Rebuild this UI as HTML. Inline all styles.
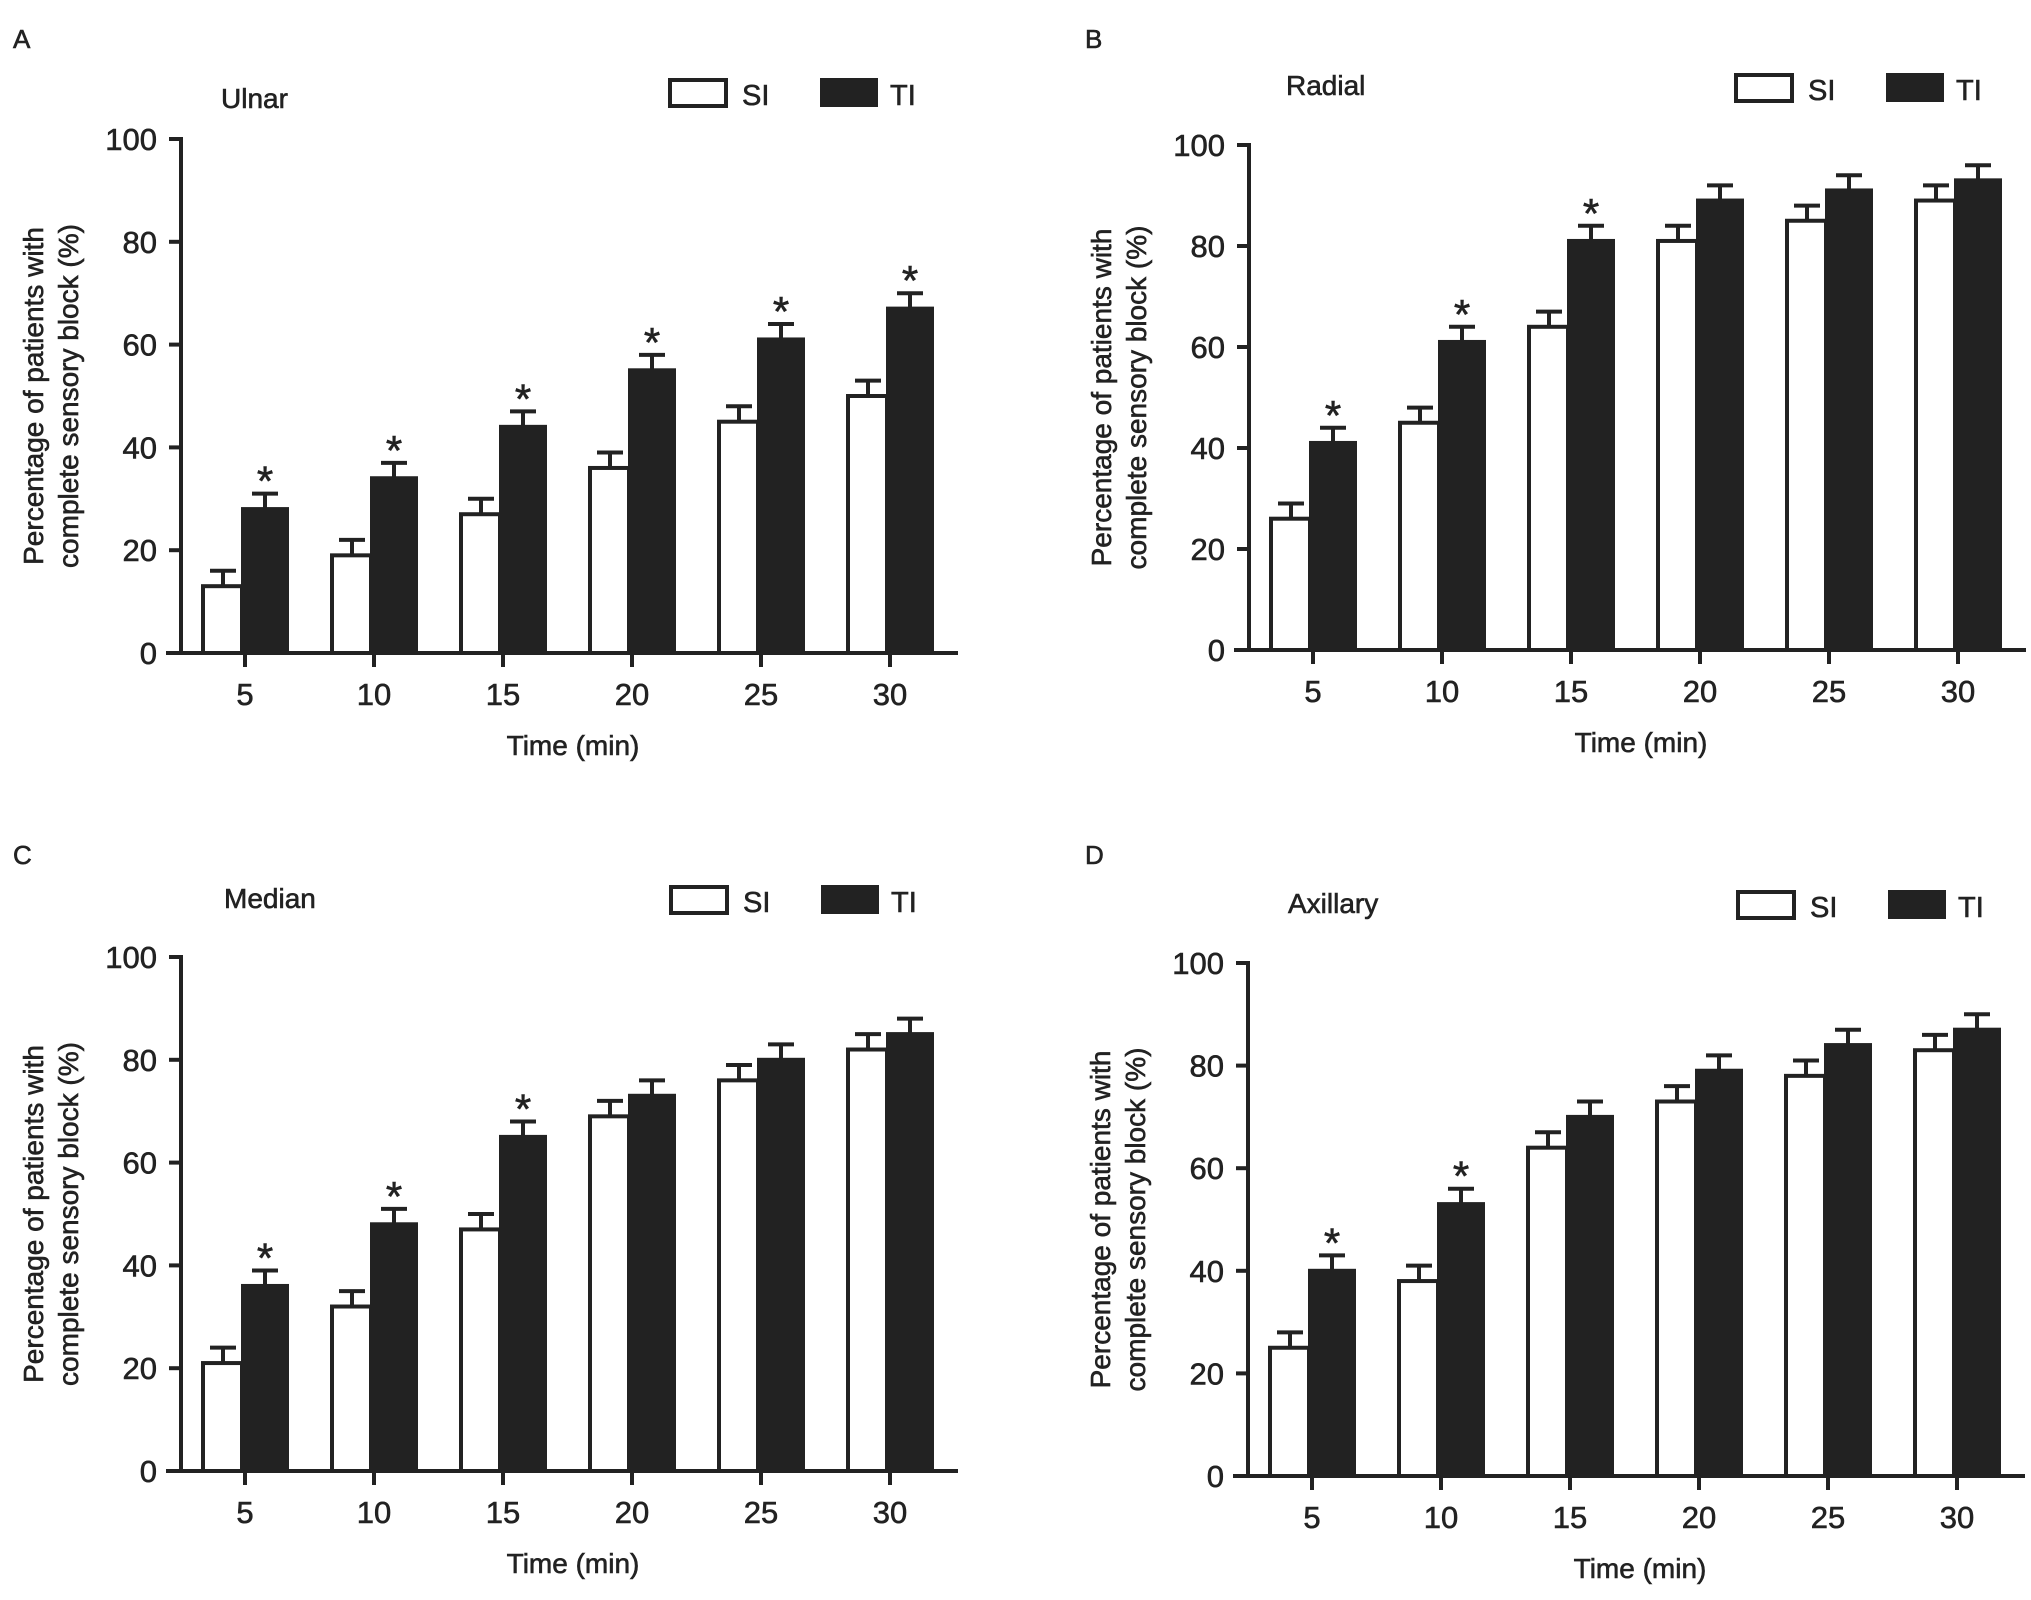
<!DOCTYPE html>
<html><head><meta charset="utf-8"><style>
html,body{margin:0;padding:0;background:#fff;}
svg{display:block;font-family:"Liberation Sans",Arial,sans-serif;}
svg text{stroke:#222;stroke-width:0.6px;}
</style></head><body>
<svg id="fig" width="2031" height="1600" viewBox="0 0 2031 1600" xmlns="http://www.w3.org/2000/svg"></svg>
<script>
const categories = [5, 10, 15, 20, 25, 30];
const yTicks = [0, 20, 40, 60, 80, 100];
const ulnarSI = [13, 19, 27, 36, 45, 50];
const ulnarTI = [28, 34, 44, 55, 61, 67];
const ulnarStars = [1, 1, 1, 1, 1, 1];
const radialSI = [26, 45, 64, 81, 85, 89];
const radialTI = [41, 61, 81, 89, 91, 93];
const radialStars = [1, 1, 1, 0, 0, 0];
const medianSI = [21, 32, 47, 69, 76, 82];
const medianTI = [36, 48, 65, 73, 80, 85];
const medianStars = [1, 1, 1, 0, 0, 0];
const axillarySI = [25, 38, 64, 73, 78, 83];
const axillaryTI = [40, 53, 70, 79, 84, 87];
const axillaryStars = [1, 1, 0, 0, 0, 0];
const siErr = 3;
const tiErr = 3;

const NS = "http://www.w3.org/2000/svg";
const svg = document.getElementById('fig');
const C = '#222';
function mk(tag, attrs, parent, text){
  const e = document.createElementNS(NS, tag);
  for (const k in attrs) e.setAttribute(k, attrs[k]);
  if (text !== undefined) e.textContent = text;
  (parent || svg).appendChild(e);
  return e;
}
const panels = [
  {letter:'A', title:'Ulnar', ax:181, y0:653, y100:139, lx:13, ly:48, tx:221, ty:108, legx:670, legy:80, si:ulnarSI, ti:ulnarTI, stars:ulnarStars, id:'ulnar'},
  {letter:'B', title:'Radial', ax:1249, y0:650, y100:145, lx:1085, ly:48, tx:1286, ty:95, legx:1736, legy:75, si:radialSI, ti:radialTI, stars:radialStars, id:'radial'},
  {letter:'C', title:'Median', ax:181, y0:1471, y100:957, lx:13, ly:864, tx:224, ty:908, legx:671, legy:887, si:medianSI, ti:medianTI, stars:medianStars, id:'median'},
  {letter:'D', title:'Axillary', ax:1248, y0:1476, y100:963, lx:1085, ly:864, tx:1288, ty:913, legx:1738, legy:892, si:axillarySI, ti:axillaryTI, stars:axillaryStars, id:'axillary'}
];
panels.forEach(p => {
  const g = mk('g', {});
  
  
  const yS = v => p.y0 - (p.y0 - p.y100) * v / 100;
  const xS = i => p.ax + 64 + 129 * i;
  let t;
  t = mk('text', {x:p.lx, y:p.ly, 'font-size':26, fill:C}, g, p.letter);
   
  t = mk('text', {x:p.tx, y:p.ty, 'font-size':28, fill:C}, g, p.title);
   
  const lg = mk('g', {}, g);
   
  t = mk('rect', {x:p.legx, y:p.legy, width:56, height:26, fill:'#fff', stroke:C, 'stroke-width':4}, lg);
   
  t = mk('text', {x:p.legx + 72, y:p.legy + 25, 'font-size':29, fill:C}, lg, 'SI');
   
  t = mk('rect', {x:p.legx + 150, y:p.legy - 2, width:58, height:29, fill:C}, lg);
   
  t = mk('text', {x:p.legx + 220, y:p.legy + 25, 'font-size':29, fill:C}, lg, 'TI');
   
  t = mk('line', {x1:p.ax, y1:p.y100 - 2, x2:p.ax, y2:p.y0, stroke:C, 'stroke-width':4}, g);
   
  yTicks.forEach(v => {
    mk('line', {x1:p.ax - 12, y1:yS(v), x2:p.ax, y2:yS(v), stroke:C, 'stroke-width':4}, g);
    const tl = mk('text', {x:p.ax - 24, y:yS(v) + 11, 'font-size':31, fill:C, 'text-anchor':'end'}, g, String(v));
     
  });
  const cy = (p.y0 + p.y100) / 2;
  const yt = mk('text', {transform:`translate(${p.ax - 138},${cy}) rotate(-90)`, 'font-size':28, fill:C, 'text-anchor':'middle'}, g);
   
  mk('tspan', {x:0, y:0}, yt, 'Percentage of patients with');
  mk('tspan', {x:0, y:35}, yt, 'complete sensory block (%)');
  categories.forEach((c, i) => {
    const tx = xS(i);
    const sTop = yS(p.si[i]), tTop = yS(p.ti[i]);
    const sb = mk('rect', {x:tx - 42, y:sTop, width:39, height:p.y0 - sTop, fill:'#fff', stroke:C, 'stroke-width':4}, g);
     
    const sE = yS(p.si[i] + siErr);
    mk('line', {x1:tx - 22, y1:sTop, x2:tx - 22, y2:sE, stroke:C, 'stroke-width':4}, g);
    mk('line', {x1:tx - 35, y1:sE, x2:tx - 9, y2:sE, stroke:C, 'stroke-width':4}, g);
    const tb = mk('rect', {x:tx - 4, y:tTop - 2, width:48, height:p.y0 - tTop + 2, fill:C}, g);
     
    const tE = yS(p.ti[i] + tiErr);
    mk('line', {x1:tx + 20, y1:tTop, x2:tx + 20, y2:tE, stroke:C, 'stroke-width':4}, g);
    mk('line', {x1:tx + 7, y1:tE, x2:tx + 33, y2:tE, stroke:C, 'stroke-width':4}, g);
    if (p.stars[i]) {
      const st = mk('text', {x:tx + 20, y:tE + 2, 'font-size':42, fill:C, 'text-anchor':'middle'}, g, '*');
       
    }
    mk('line', {x1:tx, y1:p.y0, x2:tx, y2:p.y0 + 14, stroke:C, 'stroke-width':4}, g);
    const xl = mk('text', {x:tx, y:p.y0 + 52, 'font-size':31, fill:C, 'text-anchor':'middle'}, g, String(c));
     
  });
  t = mk('line', {x1:p.ax - 15, y1:p.y0, x2:p.ax + 777, y2:p.y0, stroke:C, 'stroke-width':4}, g);
   
  t = mk('text', {x:p.ax + 392, y:p.y0 + 102, 'font-size':28, fill:C, 'text-anchor':'middle'}, g, 'Time (min)');
   
});
</script>
</body></html>
